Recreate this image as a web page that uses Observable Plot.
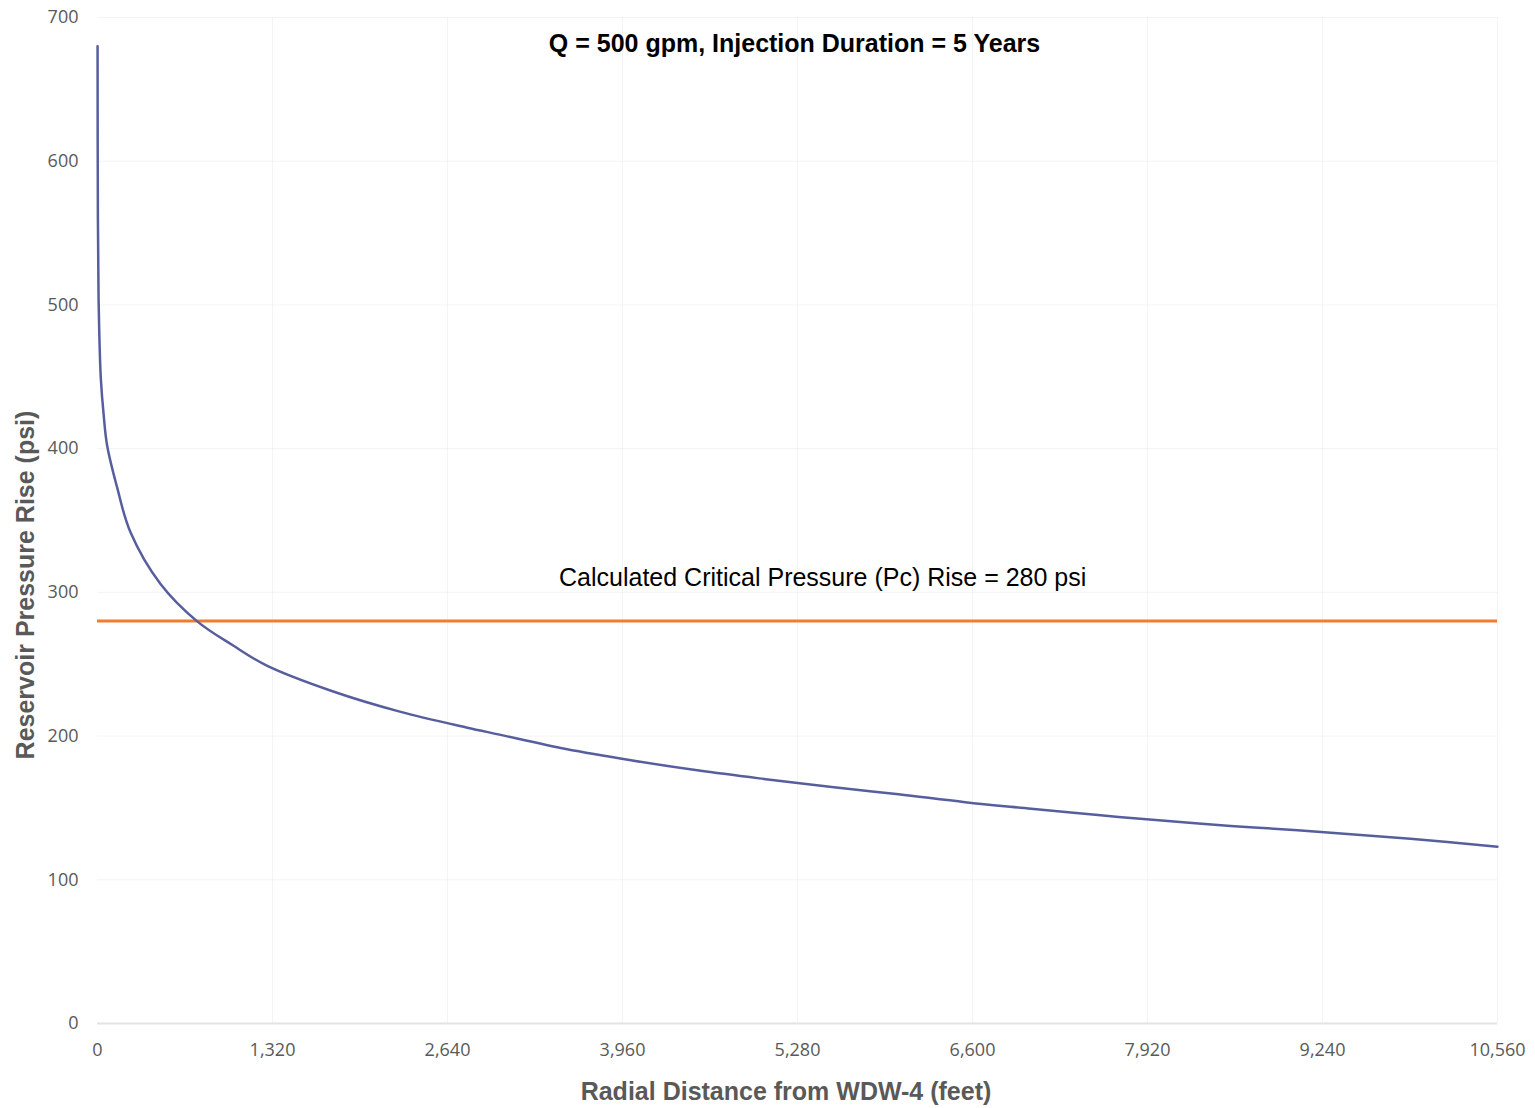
<!DOCTYPE html>
<html>
<head>
<meta charset="utf-8">
<script src="https://cdn.jsdelivr.net/npm/d3@7"></script>
<script src="https://cdn.jsdelivr.net/npm/@observablehq/plot@0.6"></script>
<style>
  html, body { margin: 0; padding: 0; background: #ffffff; }
  #chart { width: 1535px; height: 1108px; }
</style>
</head>
<body>
<div id="chart"></div>
<script>
// Radial distance from WDW-4 (feet)
const distance = [0.5, 3, 8, 15, 25, 45, 73, 148, 248, 474, 750, 1023, 1277, 1778, 2280, 2782, 3032, 3534, 4035, 4537, 5041, 5538, 6042, 6544, 7043, 7547, 8051, 8548, 9052, 9403, 9903, 10560];
// Reservoir pressure rise (psi)
const pressure = [680, 560, 505, 475, 449, 425, 402, 373, 342, 306, 280, 263, 249, 231, 217, 206, 201, 191, 183, 176, 170, 164.5, 159.5, 154, 149.5, 145, 141, 137.5, 134.5, 132, 128.5, 123];
// Critical pressure rise (psi)
const criticalPressure = [280];
const criticalLabel = ["Calculated Critical Pressure (Pc) Rise = 280 psi"];
const criticalLabelX = [5470];
const titleText = ["Q = 500 gpm, Injection Duration = 5 Years"];
const xTicks = [0, 1320, 2640, 3960, 5280, 6600, 7920, 9240, 10560];
const yTicks = [0, 100, 200, 300, 400, 500, 600, 700];
const xLabel = "Radial Distance from WDW-4 (feet)";
const yLabel = "Reservoir Pressure Rise (psi)";

const curve = distance.map((d, i) => ({distance: d, pressure: pressure[i]}));
const annotation = criticalLabel.map((t, i) => ({text: t, x: criticalLabelX[i], y: criticalPressure[i]}));

const W = 1535, H = 1108;
const plot = Plot.plot({
  width: W,
  height: H,
  marginLeft: 97,
  marginRight: 38,
  marginTop: 17,
  marginBottom: 85,
  style: {fontFamily: "'Open Sans', sans-serif", fontSize: "18px", color: "#595959", background: "#ffffff"},
  x: {domain: [0, 10560], label: null},
  y: {domain: [0, 700], label: null},
  marks: [
    Plot.gridX(xTicks.slice(1), {stroke: "#d9d9d9", strokeOpacity: 0.3}),
    Plot.gridY(yTicks.slice(1), {stroke: "#d9d9d9", strokeOpacity: 0.3}),
    Plot.ruleY([0], {stroke: "#e3e3e3", strokeWidth: 2}),
    Plot.axisX(xTicks, {tickSize: 0, tickPadding: 20, tickFormat: d3.format(","), label: null, fill: "#595959"}),
    Plot.axisY(yTicks, {tickSize: 0, tickPadding: 19, label: null, fill: "#595959"}),
    Plot.ruleY(criticalPressure, {x1: 0, x2: 10560, stroke: "#ed7d31", strokeWidth: 3}),
    Plot.line(curve, {x: "distance", y: "pressure", stroke: "#575e9e", strokeWidth: 2.5, curve: "catmull-rom"}),
    Plot.text(annotation, {x: "x", y: "y", text: "text", dy: -43, fill: "#000000", fontSize: 25, fontFamily: "'Liberation Sans', Arial, sans-serif"}),
    Plot.text(titleText, {frameAnchor: "top", dx: -3, dy: 17, text: d => d, fill: "#000000", fontSize: 25, fontWeight: "bold", fontFamily: "'Liberation Sans', Arial, sans-serif"})
  ]
});

const svg = d3.select(plot);
svg.append("text")
  .attr("transform", "translate(25,585) rotate(-90)")
  .attr("text-anchor", "middle")
  .attr("dominant-baseline", "central")
  .attr("fill", "#595959")
  .attr("font-family", "'Liberation Sans', Arial, sans-serif")
  .attr("font-weight", "bold")
  .attr("font-size", 25)
  .text(yLabel);
svg.append("text")
  .attr("x", 786)
  .attr("y", 1091)
  .attr("text-anchor", "middle")
  .attr("dominant-baseline", "central")
  .attr("fill", "#595959")
  .attr("font-family", "'Liberation Sans', Arial, sans-serif")
  .attr("font-weight", "bold")
  .attr("font-size", 25)
  .text(xLabel);

document.getElementById("chart").appendChild(plot);
</script>
</body>
</html>
